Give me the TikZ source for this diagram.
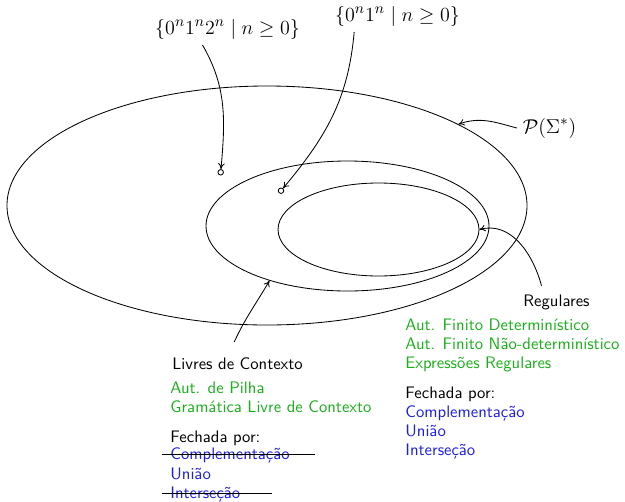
\documentclass[tikz,border=0pt]{standalone}
\usepackage{amsmath,amssymb}
\usepackage{tikz}
\usetikzlibrary{shapes.geometric,arrows.meta}
\definecolor{verde}{RGB}{25,175,25}
\definecolor{azul}{RGB}{30,30,225}

\begin{document}
\begin{tikzpicture}[x=0.6pt,y=-0.6pt,line width=0.5pt,>={To[length=3.6pt,width=4pt]},
  conj/.style={draw,ellipse,inner sep=0pt},
  pto/.style={draw,circle,inner sep=0pt,minimum size=3.3pt},
  rot/.style={font=\sffamily,anchor=base west,inner sep=0pt},
  mat/.style={font=\fontsize{13}{15}\selectfont,anchor=base}]
\useasboundingbox (0,0) rectangle (625,501);
% os conjuntos
\node[conj,minimum width=312pt,minimum height=143.4pt] (todas) at (267,205.5) {};
\node[conj,minimum width=169.8pt,minimum height=78pt] (ctx) at (347.5,226) {};
\node[conj,minimum width=120.6pt,minimum height=55.8pt] (reg) at (378.5,229.5) {};
\node[pto] (w1) at (220.7,172.3) {};
\node[pto] (w2) at (281,190.7) {};
\node[mat] (l1) at (227.5,34) {$\{0^n1^n2^n \mid n\geq 0\}$};
\node[mat] (l2) at (397.5,21) {$\{0^n1^n \mid n\geq 0\}$};
\node[mat] (ps) at (549.5,133) {$\mathcal{P}(\Sigma^*)$};
\draw[->] ([xshift=-15pt]l1.south) to[out=-60,in=85] (w1);
\draw[->] ([xshift=-26pt]l2.south) to[out=-95,in=50] (w2);
\draw[->] (ps.west) to[out=165,in=20] (todas.23);
% regulares
\node[rot] (regnome) at (523,306) {Regulares};
\draw[->] ([xshift=-9pt,yshift=5pt]regnome.north) to[out=105,in=15] (reg.east);
\node[rot,text=verde] (reg1) at (405,330) {Aut. Finito Determinístico};
\node[rot,text=verde] (reg2) at (405,349) {Aut. Finito Não-determinístico};
\node[rot,text=verde] (reg3) at (405,368) {Expressões Regulares};
\node[rot] (regf) at (405,398) {Fechada por:};
\node[rot,text=azul] (regc) at (405,417) {Complementação};
\node[rot,text=azul] (regu) at (405,436) {União};
\node[rot,text=azul] (regi) at (405,455) {Interseção};
% livres de contexto
\node[rot] (ctxnome) at (172,369) {Livres de Contexto};
\draw[->] ([xshift=-2pt,yshift=9pt]ctxnome.north) to[out=65,in=-120] (ctx.-145);
\node[rot,text=verde] (ctx1) at (170,393) {Aut. de Pilha};
\node[rot,text=verde] (ctx2) at (170,412) {Gramática Livre de Contexto};
\node[rot] (ctxf) at (170,442) {Fechada por:};
\node[rot,text=azul] (ctxc) at (170,459) {Complementação};
\node[rot,text=azul] (ctxu) at (170,479) {União};
\node[rot,text=azul] (ctxi) at (170,498) {Interseção};
\draw ([xshift=-5pt,yshift=2.5pt]ctxc.base west) -- ([xshift=15pt,yshift=2.5pt]ctxc.base east);
\draw ([xshift=-5pt,yshift=2.5pt]ctxi.base west) -- ([xshift=19pt,yshift=2.5pt]ctxi.base east);
\end{tikzpicture}
\end{document}
